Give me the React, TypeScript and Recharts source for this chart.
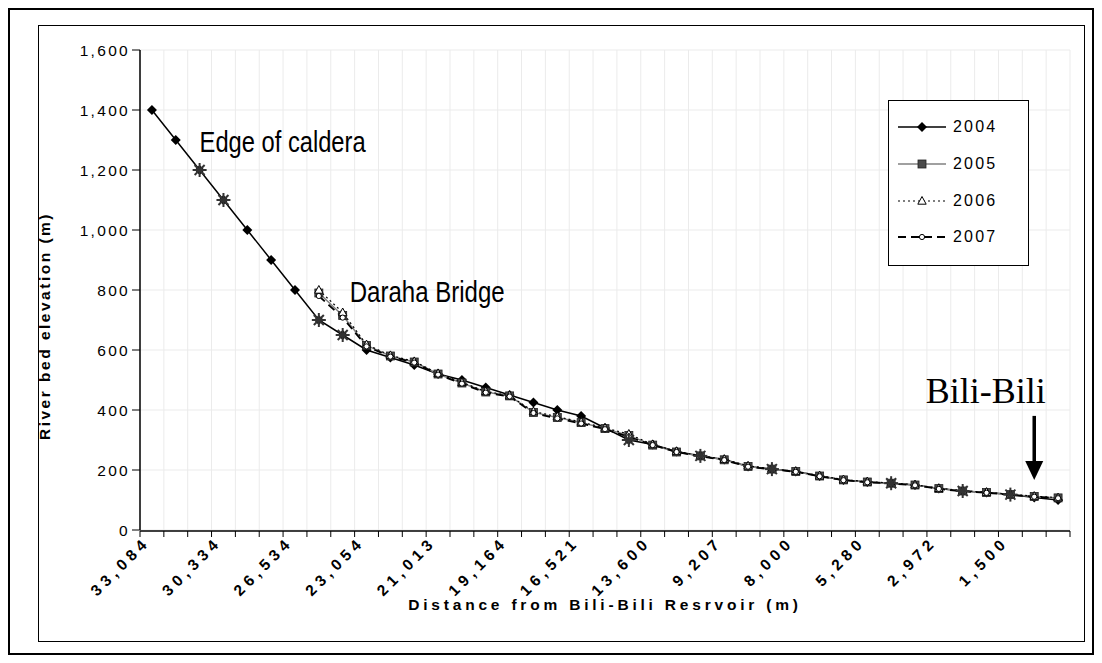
import React from 'react';
import {
  ComposedChart, Line, XAxis, YAxis, CartesianGrid, Legend, ReferenceDot,
} from 'recharts';

const cats = [
  '33,084', '32,200', '31,250', '30,334', '29,100', '27,800', '26,534', '25,300', '24,150',
  '23,054', '22,400', '21,700', '21,013', '20,400', '19,800', '19,164', '18,300', '17,400',
  '16,521', '15,550', '14,600', '13,600', '12,000', '10,600', '9,207', '8,800', '8,400',
  '8,000', '7,100', '6,200', '5,280', '4,500', '3,700', '2,972', '2,400', '1,950',
  '1,500', '800', '0',
];

const y2004 = [1400, 1300, 1200, 1100, 1000, 900, 800, 700, 650, 600, 575, 550, 520, 500, 475, 450, 425, 400, 380, 340, 300, 285, 262, 247, 235, 212, 203, 195, 180, 167, 160, 156, 150, 138, 130, 125, 118, 108, 100];
const y2005 = [null, null, null, null, null, null, null, 790, 715, 615, 580, 560, 520, 490, 460, 447, 392, 375, 358, 338, 315, 283, 260, 247, 234, 212, 203, 195, 180, 167, 160, 156, 150, 138, 130, 125, 118, 112, 107];
const y2006 = [null, null, null, null, null, null, null, 800, 725, 618, 582, 562, 522, 492, 462, 448, 395, 378, 360, 340, 320, 285, 262, 248, 236, 214, 204, 196, 181, 168, 161, 157, 151, 139, 131, 126, 119, 113, 108];
const y2007 = [null, null, null, null, null, null, null, 780, 708, 612, 578, 558, 518, 488, 458, 445, 390, 372, 355, 336, 310, 283, 260, 246, 233, 211, 202, 194, 179, 166, 159, 155, 149, 137, 129, 124, 117, 111, 106];
const starIdx = [2, 3, 7, 8, 20, 23, 26, 31, 34, 36];
const yTicks = [0, 200, 400, 600, 800, 1000, 1200, 1400, 1600];
const gridTicks = Array.from({ length: cats.length + 1 }, (_, i) => i);

const data = cats.map((d, i) => ({
  dist: d,
  pos: i + 0.5,
  s2004: y2004[i],
  s2005: y2005[i],
  s2006: y2006[i],
  s2007: y2007[i],
  star: starIdx.includes(i) ? y2004[i] : null,
}));

const FONT = '"Liberation Sans", Arial, sans-serif';

const Diamond = ({ cx, cy }: any) =>
  cx == null || cy == null ? <g /> : (
    <polygon points={`${cx},${cy - 5} ${cx + 5},${cy} ${cx},${cy + 5} ${cx - 5},${cy}`} fill="#000" />
  );
const Square = ({ cx, cy }: any) =>
  cx == null || cy == null ? <g /> : (
    <rect x={cx - 4} y={cy - 4} width={8} height={8} fill="#4a4a4a" stroke="#222" strokeWidth={0.8} />
  );
const Triangle = ({ cx, cy }: any) =>
  cx == null || cy == null ? <g /> : (
    <polygon points={`${cx},${cy - 4.5} ${cx + 4.2},${cy + 3.2} ${cx - 4.2},${cy + 3.2}`} fill="#fff" stroke="#000" strokeWidth={1} />
  );
const Circle = ({ cx, cy }: any) =>
  cx == null || cy == null ? <g /> : (
    <circle cx={cx} cy={cy} r={2.6} fill="#fff" stroke="#000" strokeWidth={1} />
  );
const Star = ({ cx, cy }: any) =>
  cx == null || cy == null ? <g /> : (
    <g stroke="#333" strokeWidth={2}>
      <line x1={cx - 7} y1={cy} x2={cx + 7} y2={cy} />
      <line x1={cx} y1={cy - 7} x2={cx} y2={cy + 7} />
      <line x1={cx - 5} y1={cy - 5} x2={cx + 5} y2={cy + 5} />
      <line x1={cx - 5} y1={cy + 5} x2={cx + 5} y2={cy - 5} />
    </g>
  );

const mk = (C: any) => (p: any) => <C key={`d${p.index}`} cx={p.cx} cy={p.cy} />;

const legendItems = [
  { name: '2004', color: '#000', width: 1.5, dash: undefined, M: Diamond },
  { name: '2005', color: '#808080', width: 1.5, dash: undefined, M: Square },
  { name: '2006', color: '#000', width: 1.2, dash: '2 3', M: Triangle },
  { name: '2007', color: '#000', width: 1.8, dash: '8 5', M: Circle },
];

const LegendBox = () => (
  <div style={{ width: 141, height: 166, border: '1px solid #000', boxSizing: 'border-box', background: '#fff', paddingTop: 8 }}>
    {legendItems.map((it) => (
      <div key={it.name} style={{ height: 36.7, display: 'flex', alignItems: 'center' }}>
        <svg width={64} height={16} style={{ display: 'block' }}>
          <line x1={9} y1={8} x2={57} y2={8} stroke={it.color} strokeWidth={it.width} strokeDasharray={it.dash} />
          <it.M cx={33} cy={8} />
        </svg>
        <span style={{ fontFamily: FONT, fontSize: 16, letterSpacing: 2.2, color: '#000' }}>{it.name}</span>
      </div>
    ))}
  </div>
);

const EmptyTick = () => <g />;

const XTick = ({ x, y, payload }: any) => (
  <g transform={`translate(${x - 1},${y + 5})`}>
    <text x={0} y={0} textAnchor="end" transform="rotate(-45)" fontFamily={FONT} fontSize={15.5} fontWeight="bold" letterSpacing={4.8} fill="#000">
      {payload.value}
    </text>
  </g>
);

const YTitle = ({ viewBox }: any) => {
  const cx = viewBox.x - 30;
  const cy = viewBox.y + viewBox.height / 2 + 36;
  return (
    <text x={cx} y={cy} transform={`rotate(-90, ${cx}, ${cy})`} textAnchor="middle" fontFamily={FONT} fontSize={15.5} fontWeight="bold" letterSpacing={2.5} fill="#000">
      River bed elevation (m)
    </text>
  );
};

const NarrowText = (txt: string, len: number, dx = 0) => ({ viewBox }: any) => (
  <text x={viewBox.x + dx} y={viewBox.y} fontFamily={FONT} fontSize={30} textLength={len} lengthAdjust="spacingAndGlyphs" fill="#000">
    {txt}
  </text>
);

const BiliText = ({ viewBox }: any) => (
  <text x={viewBox.x - 13} y={viewBox.y} fontFamily='"Liberation Serif", "Times New Roman", serif' fontSize={36} fill="#000">
    Bili-Bili
  </text>
);

const Arrow = ({ cx, cy }: any) => (
  <g>
    <line x1={cx} y1={cy - 64} x2={cx} y2={cy - 16} stroke="#000" strokeWidth={3.5} />
    <polygon points={`${cx - 9},${cy - 19} ${cx + 9},${cy - 19} ${cx},${cy}`} fill="#000" />
  </g>
);

export default function App() {
  return (
    <div style={{ position: 'relative', width: 1086, height: 647, border: '2px solid #000', boxSizing: 'border-box', background: '#fff' }}>
      <div style={{ position: 'absolute', left: 28, top: 15, width: 1047, height: 617, border: '1px solid #000', boxSizing: 'border-box' }} />
      <div style={{ position: 'absolute', left: 0, top: 0 }}>
        <ComposedChart width={1082} height={643} data={data} margin={{ top: 40, right: 22, bottom: 60, left: 70 }}>
          <CartesianGrid xAxisId="grid" yAxisId="left" stroke="#ebebeb" strokeWidth={1} vertical horizontal />
          <XAxis
            xAxisId="grid"
            dataKey="pos"
            type="number"
            domain={[0, cats.length]}
            allowDataOverflow
            ticks={gridTicks}
            interval={0}
            tick={<EmptyTick />}
            tickSize={6}
            height={62}
            axisLine={{ stroke: '#000', strokeWidth: 1.5 }}
            tickLine={{ stroke: '#000', strokeWidth: 1 }}
            label={{ value: 'Distance from Bili-Bili Resrvoir (m)', position: 'bottom', offset: 6, fontFamily: FONT, fontSize: 15.5, fontWeight: 'bold', letterSpacing: 3.8, fill: '#000' } as any}
          />
          <XAxis
            xAxisId="cat"
            dataKey="dist"
            type="category"
            scale="band"
            interval={2}
            height={1}
            axisLine={false}
            tickLine={false}
            tick={<XTick />}
          />
          <YAxis
            yAxisId="left"
            domain={[0, 1600]}
            ticks={yTicks}
            interval={0}
            width={60}
            tickSize={8}
            tickFormatter={(v: number) => v.toLocaleString('en-US')}
            tick={{ fontFamily: FONT, fontSize: 15.5, fill: '#000', letterSpacing: 2.3 } as any}
            axisLine={{ stroke: '#000', strokeWidth: 1.5 }}
            tickLine={{ stroke: '#000' }}
            label={<YTitle />}
          />
          <YAxis yAxisId="right" orientation="right" domain={[0, 1600]} width={0} tick={false} tickLine={false} axisLine={{ stroke: '#000', strokeWidth: 1.5 }} />
          <Legend layout="horizontal" verticalAlign="middle" align="center" wrapperStyle={{ position: 'absolute', left: 878, top: 90, width: 141, height: 166 }} content={() => <LegendBox />} />
          <Line xAxisId="cat" yAxisId="left" dataKey="s2004" name="2004" stroke="#000" strokeWidth={1.5} dot={mk(Diamond)} activeDot={false} isAnimationActive={false} />
          <Line xAxisId="cat" yAxisId="left" dataKey="s2005" name="2005" stroke="#808080" strokeWidth={1.5} dot={mk(Square)} activeDot={false} isAnimationActive={false} />
          <Line xAxisId="cat" yAxisId="left" dataKey="s2006" name="2006" stroke="#000" strokeWidth={1.2} strokeDasharray="2 3" dot={mk(Triangle)} activeDot={false} isAnimationActive={false} />
          <Line xAxisId="cat" yAxisId="left" dataKey="s2007" name="2007" stroke="#000" strokeWidth={1.8} strokeDasharray="8 5" dot={mk(Circle)} activeDot={false} isAnimationActive={false} />
          <Line xAxisId="grid" yAxisId="left" dataKey="star" legendType="none" stroke="none" strokeWidth={0} dot={mk(Star)} activeDot={false} isAnimationActive={false} />
          <ReferenceDot xAxisId="cat" yAxisId="left" x={cats[2]} y={1260} r={0} fill="none" stroke="none" label={NarrowText('Edge of caldera', 166)} />
          <ReferenceDot xAxisId="cat" yAxisId="left" x={cats[8]} y={760} r={0} fill="none" stroke="none" label={NarrowText('Daraha Bridge', 155, 7)} />
          <ReferenceDot xAxisId="cat" yAxisId="left" x={cats[33]} y={423} r={0} fill="none" stroke="none" label={<BiliText />} />
          <ReferenceDot xAxisId="cat" yAxisId="left" x={cats[37]} y={167} r={0} shape={<Arrow />} />
        </ComposedChart>
      </div>
    </div>
  );
}
